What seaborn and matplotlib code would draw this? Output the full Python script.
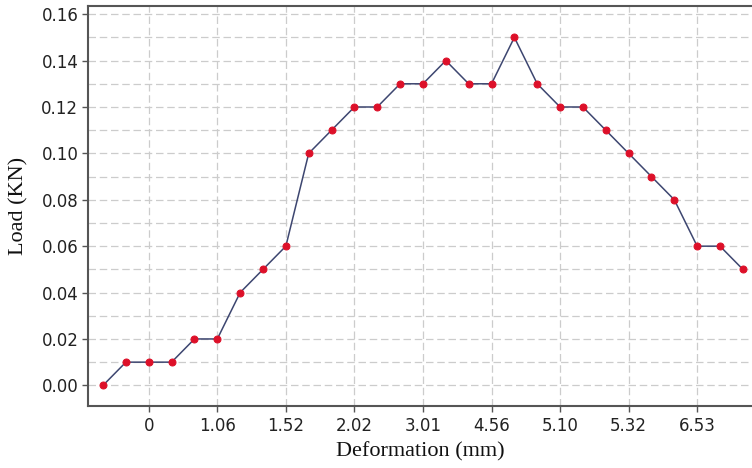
import numpy as np
import pandas as pd
import matplotlib.pyplot as plt
import seaborn as sns

# valores
carga = [0.00, 0.01, 0.01, 0.01, 0.02, 0.02, 0.04, 0.05, 0.06, 0.10,
         0.11, 0.12, 0.12, 0.13, 0.13, 0.14, 0.13, 0.13, 0.15, 0.13,
         0.12, 0.12, 0.11, 0.10, 0.09, 0.08, 0.06, 0.06, 0.05]
rotulos_x = ["0", "1.06", "1.52", "2.02", "3.01", "4.56", "5.10", "5.32", "6.53"]
pos_rotulos = [2, 5, 8, 11, 14, 17, 20, 23, 26]

df = pd.DataFrame({"ponto": range(len(carga)), "carga": carga})

sns.set_style("white")
fig, ax = plt.subplots(figsize=(7.52, 4.68), dpi=100)
fig.subplots_adjust(left=0.117, right=1.0, top=0.987, bottom=0.132)

sns.lineplot(data=df, x="ponto", y="carga", ax=ax, color="#3d4670", linewidth=1.1,
             marker="o", markersize=5, markerfacecolor="#dd1029",
             markeredgecolor="#dd1029", zorder=3)

ax.set_xlim(-0.66, 28.4)
ax.set_ylim(-0.009, 0.1635)
ax.set_xticks(pos_rotulos)
ax.set_xticklabels(rotulos_x)
ax.set_yticks(np.arange(0, 0.161, 0.02))
ax.set_yticklabels([f"{v:.2f}" for v in np.arange(0, 0.161, 0.02)])
ax.set_yticks(np.arange(0, 0.161, 0.01), minor=True)

ax.grid(True, which="major", color="#cccccc", linestyle=(0, (6, 3)), linewidth=0.9)
ax.grid(True, which="minor", axis="y", color="#cccccc", linestyle=(0, (6, 3)), linewidth=0.9)
ax.tick_params(axis="both", which="major", labelsize=12, length=4, width=1,
               direction="out", color="#555555", labelcolor="#222222", pad=3)
ax.tick_params(axis="both", which="minor", length=0)
ax.tick_params(axis="x", pad=4)
ax.xaxis.set_ticks_position("bottom")
ax.yaxis.set_ticks_position("left")

for lado in ["left", "bottom", "top"]:
    ax.spines[lado].set_color("#555555")
    ax.spines[lado].set_linewidth(1.5)
ax.spines["right"].set_visible(False)

ax.set_xlabel("Deformation (mm)", family="Liberation Serif", fontsize=16, labelpad=5,
              color="#111111")
ax.set_ylabel("Load (KN)", family="Liberation Serif", fontsize=16, labelpad=9,
              color="#111111")

plt.savefig("out.png", dpi=100)
